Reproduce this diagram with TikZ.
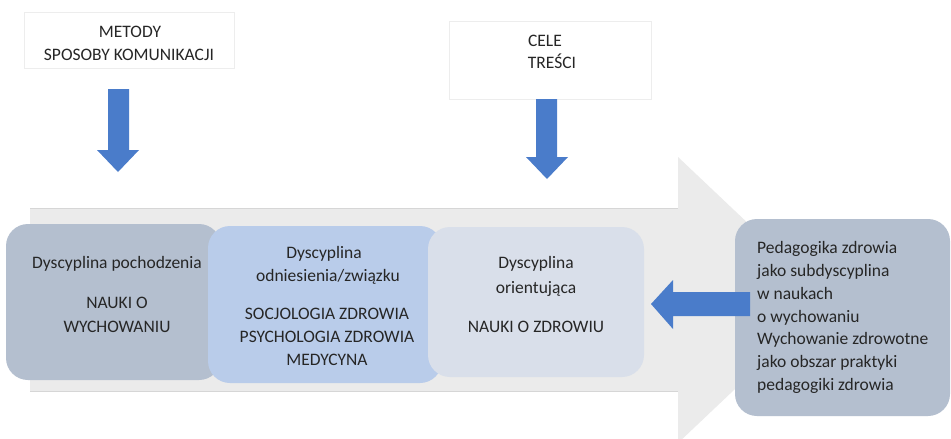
\documentclass[tikz,border=0pt]{standalone}
\usepackage{fontspec}
\setmainfont{Carlito}
\definecolor{bigarr}{HTML}{EBEBEB}
\definecolor{bigedge}{HTML}{D6D6D6}
\definecolor{boxgray}{HTML}{B4BFCF}
\definecolor{boxblue}{HTML}{B9CCEA}
\definecolor{boxpale}{HTML}{D9DFEA}
\definecolor{arrblue}{HTML}{4A7CCA}
\definecolor{txt}{HTML}{262626}
\definecolor{topedge}{HTML}{EDEDED}
\tikzset{
  lbl/.style={anchor=base, inner sep=0pt, text=txt, font=\fontsize{17.5}{23}\selectfont},
  lbll/.style={lbl, anchor=base west},
  topbox/.style={fill=white, draw=topedge, line width=0.6pt},
  disc/.style={rounded corners=22pt},
  blockarrow/.style={fill=arrblue},
}
\begin{document}
\begin{tikzpicture}[x=1pt,y=-1pt]
\useasboundingbox (0,0) rectangle (951,439);
\clip (0,0) rectangle (951,439);
\fill[white] (0,0) rectangle (951,439);

% big background arrow
\fill[bigarr] (30,208) -- (678,208) -- (678,157) -- (829,300) -- (678,443) -- (678,391) -- (30,391) -- cycle;
\draw[bigedge, line width=0.7pt] (30,208) -- (678,208);
\draw[bigedge, line width=0.7pt] (30,391) -- (678,391);

% top boxes
\draw[topbox] (24,12) rectangle (234,68);
\node[lbl] (metody) at (130,37) {METODY};
\node[lbl] (sposoby) at (129,60) {SPOSOBY KOMUNIKACJI};

\draw[topbox] (449,21) rectangle (651,99);
\node[lbl] (cele) at (545,46) {CELE};
\node[lbl] (tresci) at (552,68) {TREŚCI};

% down arrows
\fill[blockarrow] (108,89) -- (129,89) -- (129,150) -- (139,150) -- (118,172) -- (97,150) -- (108,150) -- cycle;
\fill[blockarrow] (536,99) -- (557,99) -- (557,157) -- (568,157) -- (547,179) -- (526,157) -- (536,157) -- cycle;

% discipline boxes
\fill[boxgray, disc] (6,224) rectangle (221,380);
\fill[boxblue, disc] (208,226) rectangle (442,383);
\fill[boxpale, disc] (428,227) rectangle (644,377);

\node[lbl] (b1a) at (117,268) {Dyscyplina pochodzenia};
\node[lbl] (b1b) at (117,308) {NAUKI O};
\node[lbl] (b1c) at (117,332) {WYCHOWANIU};

\node[lbl] (b2a) at (324,258) {Dyscyplina};
\node[lbl] (b2b) at (328,281) {odniesienia/związku};
\node[lbl] (b2c) at (327,319) {SOCJOLOGIA ZDROWIA};
\node[lbl] (b2d) at (327,342) {PSYCHOLOGIA ZDROWIA};
\node[lbl] (b2e) at (327,365) {MEDYCYNA};

\node[lbl] (b3a) at (536,268) {Dyscyplina};
\node[lbl] (b3b) at (536,293) {orientująca};
\node[lbl] (b3c) at (536,332) {NAUKI O ZDROWIU};

% right box
\fill[boxgray, disc] (735,219) rectangle (950,416);
\node[lbll] (r1) at (757,253) {Pedagogika zdrowia};
\node[lbll] (r2) at (757,276) {jako subdyscyplina};
\node[lbll] (r3) at (757,299) {w naukach};
\node[lbll] (r4) at (757,322) {o wychowaniu};
\node[lbll] (r5) at (757,344) {Wychowanie zdrowotne};
\node[lbll] (r6) at (757,367) {jako obszar praktyki};
\node[lbll] (r7) at (757,390) {pedagogiki zdrowia};

% left arrow
\fill[blockarrow] (750,292) -- (673,292) -- (673,280) -- (651,304) -- (673,329) -- (673,316) -- (750,316) -- cycle;
\end{tikzpicture}
\end{document}
